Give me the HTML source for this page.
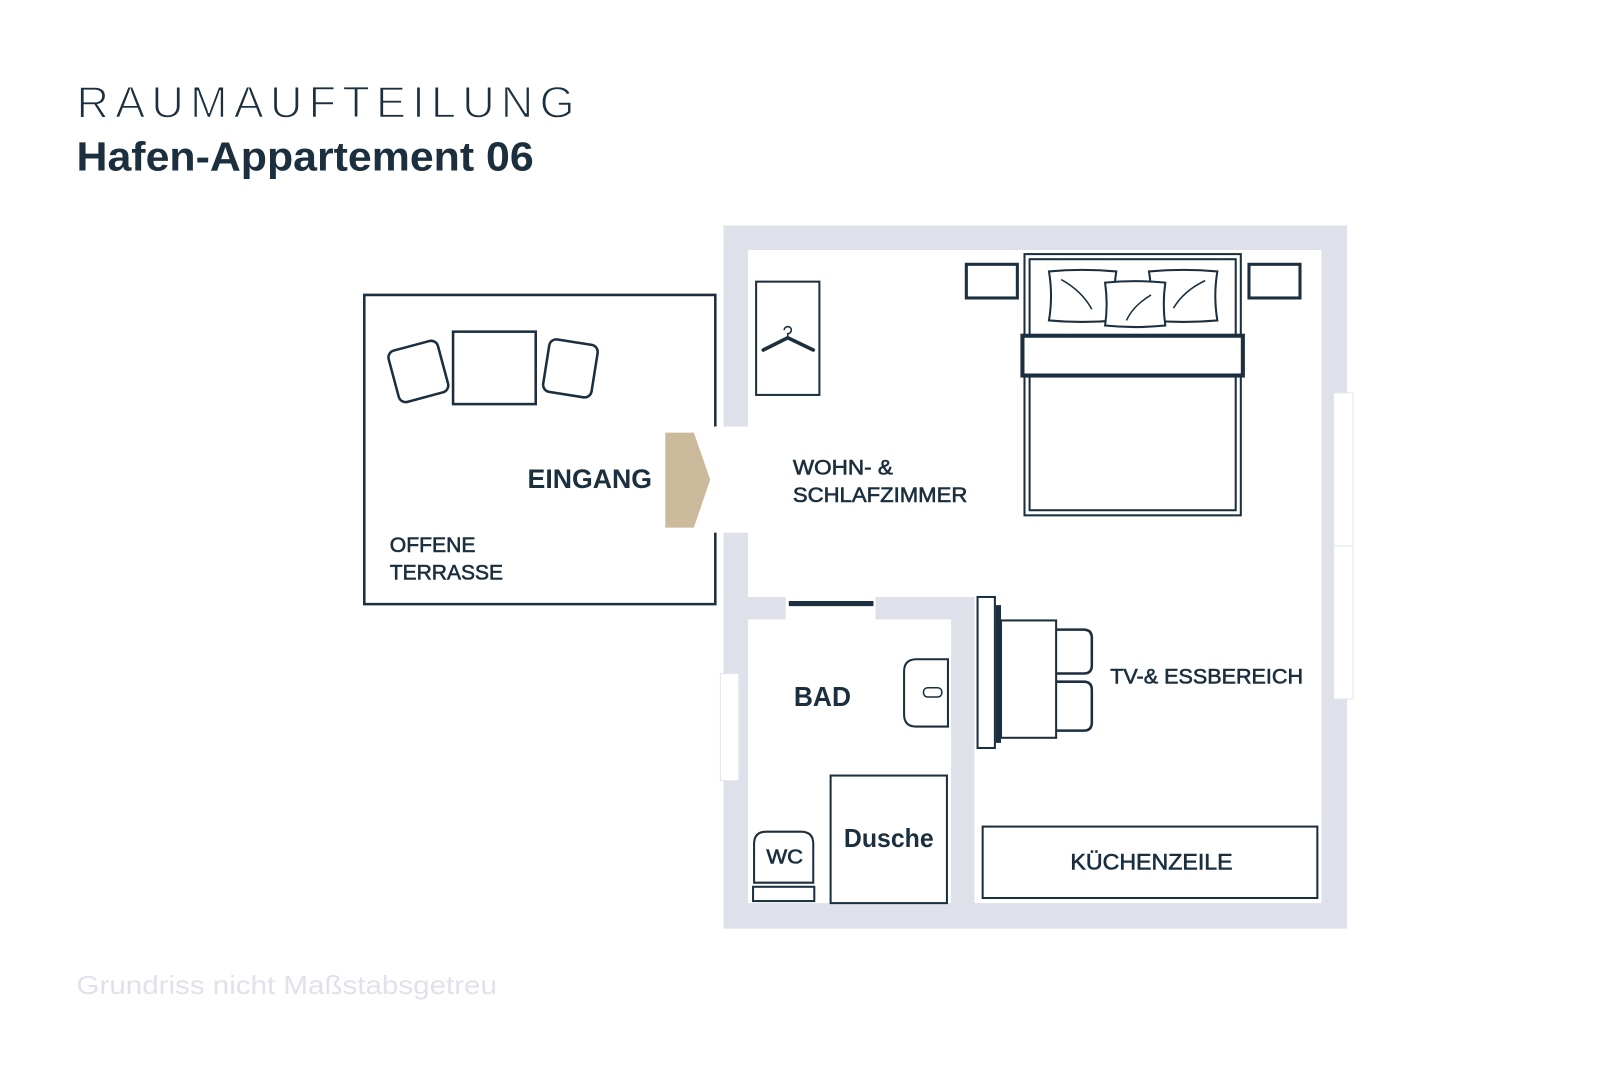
<!DOCTYPE html>
<html><head><meta charset="utf-8"><style>
html,body{margin:0;padding:0;background:#fff;}
svg{display:block;}
text{font-family:"Liberation Sans",sans-serif;fill:#1b2f3e;}
.m{stroke:#1b2f3e;stroke-width:0.6;}
</style></head><body>
<svg width="1600" height="1067" viewBox="0 0 1568 1045.6" preserveAspectRatio="none" xmlns="http://www.w3.org/2000/svg">
<rect width="1568" height="1046" fill="#fff"/>
<!-- titles -->
<text x="75" y="115" font-size="44" textLength="488" lengthAdjust="spacing" stroke="#fff" stroke-width="1.4">RAUMAUFTEILUNG</text>
<text x="75" y="167" font-size="40" font-weight="bold" textLength="448" lengthAdjust="spacingAndGlyphs">Hafen-Appartement 06</text>
<text x="75" y="974" font-size="25" textLength="412" lengthAdjust="spacingAndGlyphs" style="fill:#dfe2ea">Grundriss nicht Maßstabsgetreu</text>

<!-- walls -->
<rect x="709" y="221" width="611" height="689" fill="#dfe1ea"/>
<rect x="733" y="245" width="562" height="340" fill="#fff"/>
<rect x="955" y="585" width="340" height="300" fill="#fff"/>
<rect x="733" y="607" width="199" height="278" fill="#fff"/>
<rect x="770" y="585" width="88" height="22" fill="#fff"/>
<rect x="705" y="418" width="30" height="104" fill="#fff"/>
<!-- windows -->
<rect x="1307" y="385" width="19" height="150" fill="#fff" stroke="#e4e6ee" stroke-width="1"/>
<rect x="1307" y="535" width="19" height="150" fill="#fff" stroke="#e4e6ee" stroke-width="1"/>
<rect x="706" y="660" width="18" height="105" fill="#fff" stroke="#e4e6ee" stroke-width="1"/>
<!-- bath door -->
<line x1="773" y1="591.5" x2="856" y2="591.5" stroke="#1b2f3e" stroke-width="5"/>

<g fill="none" stroke="#1b2f3e" stroke-width="2.5">
<!-- terrace -->
<path d="M701 418 V289 H357 V592 H701 V522"/>
<rect x="444" y="325" width="81" height="71"/>
<rect x="385" y="338" width="50" height="52" rx="7" transform="rotate(-15 410 364)"/>
<rect x="535" y="335" width="48" height="52" rx="7" transform="rotate(9 559 361)"/>
<!-- wardrobe -->
<rect x="741" y="276" width="62" height="111" stroke-width="2"/>
<path d="M748 343 L772 331 L797 343" stroke-width="3.5" stroke-linecap="round"/>
<path d="M772 331 V327 a3.5 3.5 0 1 0 -3.5 -3.5" stroke-width="1.5"/>
<!-- bed -->
<rect x="1004" y="249" width="212" height="256" stroke-width="2"/>
<rect x="1009" y="254" width="202" height="246" stroke-width="2"/>
<rect x="1002" y="329" width="216" height="39" fill="#fff" stroke-width="4"/>
<path d="M1028 266 Q1060 263 1094 266 Q1090 290 1094 314 Q1060 317 1028 314 Q1032 290 1028 266Z" fill="#fff" stroke-width="2"/>
<path d="M1126 266 Q1160 263 1193 266 Q1189 290 1193 314 Q1160 317 1126 314 Q1130 290 1126 266Z" fill="#fff" stroke-width="2"/>
<path d="M1083 277 Q1112 274 1142 277 Q1139 298 1142 319 Q1112 322 1083 319 Q1086 298 1083 277Z" fill="#fff" stroke-width="2"/>
<path d="M1040 274 Q1060 285 1070 303" stroke-width="1.5"/>
<path d="M1181 275 Q1160 285 1150 302" stroke-width="1.5"/>
<path d="M1128 289 Q1110 300 1104 314" stroke-width="1.5"/>
<rect x="947" y="259" width="50" height="33" stroke-width="3"/>
<rect x="1224" y="259" width="50" height="33" stroke-width="3"/>
<!-- TV & dining -->
<rect x="958" y="585" width="17" height="148" fill="#fff" stroke-width="2"/>
<rect x="976" y="593" width="5" height="135" fill="#1b2f3e" stroke="none"/>
<rect x="981" y="608" width="54" height="115" stroke-width="2"/>
<path d="M1035 617 H1062 Q1070 617 1070 625 V652 Q1070 660 1062 660 H1035" stroke-width="2.5"/>
<path d="M1035 668 H1062 Q1070 668 1070 676 V708 Q1070 716 1062 716 H1035" stroke-width="2.5"/>
<!-- bath -->
<path d="M929 646 H898 Q886 646 886 658 V700 Q886 712 898 712 H929 Z" stroke-width="2"/>
<rect x="905" y="674" width="18" height="9" rx="4" stroke-width="1.5"/>
<rect x="814" y="760" width="114" height="125" stroke-width="2"/>
<path d="M739 865 V827 Q739 815 751 815 H785 Q797 815 797 827 V865 Z" stroke-width="2"/>
<rect x="738" y="869" width="60" height="14" stroke-width="2"/>
<!-- kitchen -->
<rect x="963" y="810" width="328" height="70" stroke-width="2"/>
</g>
<polygon points="652,424 680,424 696,470 680,517 652,517" fill="#cbb99c"/>

<!-- labels -->
<text x="517" y="478" font-size="26" font-weight="bold" textLength="122" lengthAdjust="spacingAndGlyphs">EINGANG</text>
<text class="m" x="382" y="541" font-size="21" textLength="84" lengthAdjust="spacingAndGlyphs">OFFENE</text>
<text class="m" x="382" y="568" font-size="21" textLength="111" lengthAdjust="spacingAndGlyphs">TERRASSE</text>
<text class="m" x="777" y="465" font-size="21" textLength="98" lengthAdjust="spacingAndGlyphs">WOHN- &amp;</text>
<text class="m" x="777" y="492" font-size="21" textLength="171" lengthAdjust="spacingAndGlyphs">SCHLAFZIMMER</text>
<text x="778" y="692" font-size="27" font-weight="bold" textLength="56" lengthAdjust="spacingAndGlyphs">BAD</text>
<text x="827" y="830" font-size="25" font-weight="bold" textLength="88" lengthAdjust="spacingAndGlyphs">Dusche</text>
<text class="m" x="751" y="846" font-size="20" textLength="36" lengthAdjust="spacingAndGlyphs">WC</text>
<text class="m" x="1088" y="670" font-size="21" textLength="189" lengthAdjust="spacingAndGlyphs">TV-&amp; ESSBEREICH</text>
<text class="m" x="1049" y="852" font-size="22" textLength="159" lengthAdjust="spacingAndGlyphs">KÜCHENZEILE</text>
</svg>
</body></html>
